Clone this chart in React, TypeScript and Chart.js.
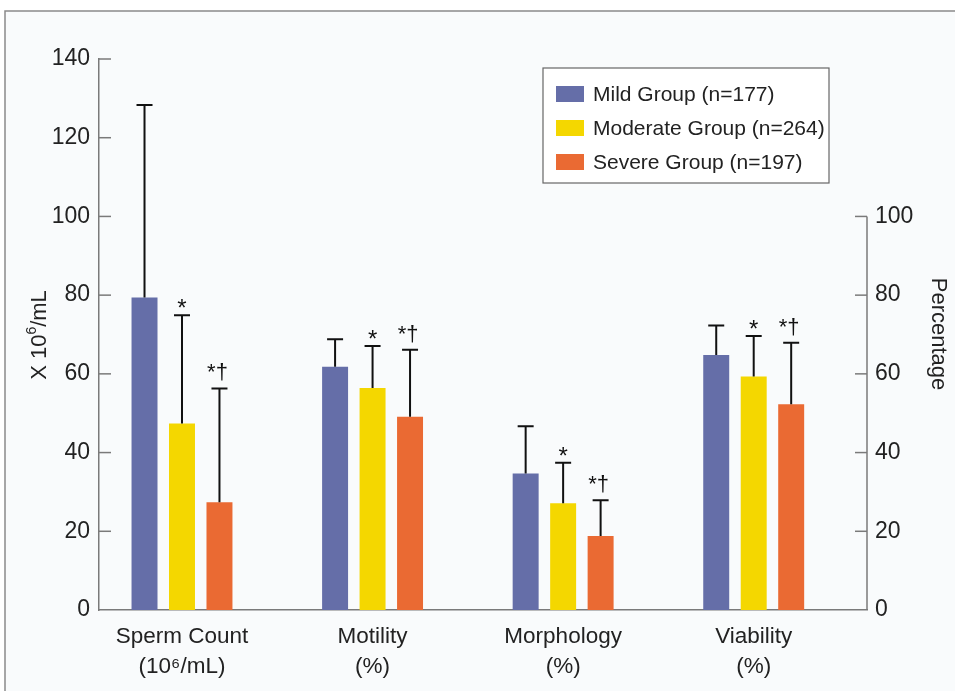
import React, { useEffect, useRef } from 'react';
import { Chart, registerables } from 'chart.js';

Chart.register(...registerables);

const categories = [
  ['Sperm Count', '(10\u2076/mL)'],
  ['Motility', '(%)'],
  ['Morphology', '(%)'],
  ['Viability', '(%)'],
];
const groupLabels = ['Mild Group (n=177)', 'Moderate Group (n=264)', 'Severe Group (n=197)'];
const groupColors = ['#656ea8', '#f4d700', '#ea6a33'];

const mildMeans = [79.4, 61.8, 34.7, 64.8];
const mildErr = [48.9, 7.0, 12.0, 7.5];
const moderateMeans = [47.4, 56.4, 27.1, 59.3];
const moderateErr = [27.5, 10.7, 10.3, 10.3];
const severeMeans = [27.4, 49.1, 18.8, 52.3];
const severeErr = [28.9, 17.0, 9.1, 15.6];

const mildMarks = ['', '', '', ''];
const moderateMarks = ['*', '*', '*', '*'];
const severeMarks = ['*\u2020', '*\u2020', '*\u2020', '*\u2020'];

const leftMax = 140;
const rightMaxShown = 100;
const tickStep = 20;

const FONT = "'Liberation Sans', Arial, Helvetica, sans-serif";
const AXIS_COLOR = '#7a7a7a';

const means = [mildMeans, moderateMeans, severeMeans];
const errs = [mildErr, moderateErr, severeErr];
const marks = [mildMarks, moderateMarks, severeMarks];

const decorPlugin = {
  id: 'decor',
  beforeDraw(chart: any) {
    const ctx = chart.ctx;
    const W = chart.width;
    const H = chart.height;
    ctx.save();
    ctx.fillStyle = '#ffffff';
    ctx.fillRect(0, 0, W, H);
    ctx.fillStyle = '#f9fbfc';
    ctx.fillRect(5, 11, W - 5, H - 11);
    ctx.strokeStyle = '#8a8a8a';
    ctx.lineWidth = 1.5;
    ctx.beginPath();
    ctx.moveTo(5, H);
    ctx.lineTo(5, 11);
    ctx.lineTo(W, 11);
    ctx.stroke();
    ctx.restore();
  },
  afterDatasetsDraw(chart: any) {
    const ctx = chart.ctx;
    const y = chart.scales.y;
    ctx.save();
    chart.data.datasets.forEach((ds: any, di: number) => {
      const meta = chart.getDatasetMeta(di);
      meta.data.forEach((bar: any, i: number) => {
        const top = y.getPixelForValue(means[di][i] + errs[di][i]);
        const x = bar.x;
        ctx.strokeStyle = '#111';
        ctx.lineWidth = 2;
        ctx.beginPath();
        ctx.moveTo(x, bar.y);
        ctx.lineTo(x, top);
        ctx.moveTo(x - 8, top);
        ctx.lineTo(x + 8, top);
        ctx.stroke();
        const m = marks[di][i];
        if (m) {
          ctx.fillStyle = '#111';
          ctx.font = m.length > 1 ? `22px ${FONT}` : `24px ${FONT}`;
          ctx.textAlign = 'center';
          ctx.textBaseline = 'alphabetic';
          ctx.fillText(m, x - (m.length > 1 ? 2 : 0), top - (m.length > 1 ? 9 : -1));
        }
      });
    });
    ctx.restore();
  },
  afterDraw(chart: any) {
    const ctx = chart.ctx;
    const y = chart.scales.y;
    const area = chart.chartArea;
    ctx.save();
    ctx.strokeStyle = AXIS_COLOR;
    ctx.lineWidth = 1.5;
    for (let v = tickStep; v <= leftMax; v += tickStep) {
      const py = y.getPixelForValue(v);
      ctx.beginPath();
      ctx.moveTo(area.left, py);
      ctx.lineTo(area.left + 12, py);
      ctx.stroke();
    }
    const top100 = y.getPixelForValue(rightMaxShown);
    ctx.beginPath();
    ctx.moveTo(area.right, area.bottom);
    ctx.lineTo(area.right, top100);
    ctx.stroke();
    for (let v = tickStep; v <= rightMaxShown; v += tickStep) {
      const py = y.getPixelForValue(v);
      ctx.beginPath();
      ctx.moveTo(area.right, py);
      ctx.lineTo(area.right - 12, py);
      ctx.stroke();
    }
    ctx.fillStyle = '#222';
    ctx.textBaseline = 'middle';
    const mainFont = `22px ${FONT}`;
    const supFont = `14px ${FONT}`;
    ctx.save();
    ctx.translate(40, 335);
    ctx.rotate(-Math.PI / 2);
    ctx.font = mainFont;
    const p1 = 'X 10';
    const p3 = '/mL';
    const w1 = ctx.measureText(p1).width;
    const w3 = ctx.measureText(p3).width;
    ctx.font = supFont;
    const w2 = ctx.measureText('6').width;
    const total = w1 + w2 + w3;
    let cx = -total / 2;
    ctx.textAlign = 'left';
    ctx.font = mainFont;
    ctx.fillText(p1, cx, 0);
    cx += w1;
    ctx.font = supFont;
    ctx.fillText('6', cx, -8);
    cx += w2;
    ctx.font = mainFont;
    ctx.fillText(p3, cx, 0);
    ctx.restore();
    ctx.save();
    ctx.translate(938, 334);
    ctx.rotate(Math.PI / 2);
    ctx.font = mainFont;
    ctx.textAlign = 'center';
    ctx.fillText('Percentage', 0, 0);
    ctx.restore();
    const lx = 543, ly = 68, lw = 286, lh = 115;
    ctx.fillStyle = '#ffffff';
    ctx.fillRect(lx, ly, lw, lh);
    ctx.strokeStyle = '#666';
    ctx.lineWidth = 1.2;
    ctx.strokeRect(lx, ly, lw, lh);
    chart.data.datasets.forEach((ds: any, di: number) => {
      const ry = 94 + di * 34;
      ctx.fillStyle = ds.backgroundColor;
      ctx.fillRect(556, ry - 8, 28, 16);
      ctx.fillStyle = '#222';
      ctx.font = `21px ${FONT}`;
      ctx.textAlign = 'left';
      ctx.textBaseline = 'middle';
      ctx.fillText(ds.label, 593, ry + 1);
    });
    ctx.restore();
  },
};

export default function App() {
  const canvasRef = useRef<HTMLCanvasElement | null>(null);

  useEffect(() => {
    const canvas = canvasRef.current;
    if (!canvas) return;
    const xMin = -0.4355;
    const xMax = 3.5945;
    const chart = new Chart(canvas, {
      type: 'bar',
      data: {
        datasets: groupLabels.map((label, di) => ({
          label,
          data: means[di].map((v, i) => ({ x: i, y: v })),
          backgroundColor: groupColors[di],
          borderWidth: 0,
          categoryPercentage: 0.59,
          barPercentage: 0.693,
          yAxisID: 'y',
        })),
      },
      options: {
        animation: false,
        responsive: true,
        maintainAspectRatio: false,
        layout: { padding: { top: 59, left: 0, right: 0, bottom: 0 } },
        plugins: {
          legend: { display: false },
          tooltip: { enabled: false },
          title: { display: false },
        },
        scales: {
          x: {
            type: 'linear',
            offset: false,
            min: xMin,
            max: xMax,
            afterBuildTicks: (s: any) => {
              s.ticks = categories.map((_, i) => ({ value: i }));
            },
            afterFit: (s: any) => {
              s.height = 81;
            },
            ticks: {
              autoSkip: false,
              maxRotation: 0,
              minRotation: 0,
              padding: 11,
              color: '#222',
              font: { family: FONT, size: 22.5, lineHeight: 1.36 },
              callback: (v: any) => categories[Math.round(Number(v))] as any,
            },
            grid: { display: false, drawTicks: false },
            border: { display: true, color: AXIS_COLOR, width: 1.5 },
          },
          y: {
            type: 'linear',
            position: 'left',
            min: 0,
            max: leftMax,
            afterFit: (s: any) => {
              s.width = 99;
            },
            ticks: {
              stepSize: tickStep,
              padding: 9,
              color: '#222',
              font: { family: FONT, size: 23 },
            },
            grid: { display: false, drawTicks: false },
            border: { display: true, color: AXIS_COLOR, width: 1.5 },
          },
          y2: {
            type: 'linear',
            position: 'right',
            min: 0,
            max: leftMax,
            afterFit: (s: any) => {
              s.width = 88;
            },
            ticks: {
              stepSize: tickStep,
              padding: 8,
              color: '#222',
              font: { family: FONT, size: 23 },
              callback: (v: any) => (Number(v) <= rightMaxShown ? String(v) : ''),
            },
            grid: { display: false, drawTicks: false },
            border: { display: false },
          },
        },
      },
      plugins: [decorPlugin],
    } as any);
    return () => chart.destroy();
  }, []);

  return (
    <div style={{ position: 'fixed', left: 0, top: 0, width: 955, height: 691 }}>
      <canvas ref={canvasRef} />
    </div>
  );
}
